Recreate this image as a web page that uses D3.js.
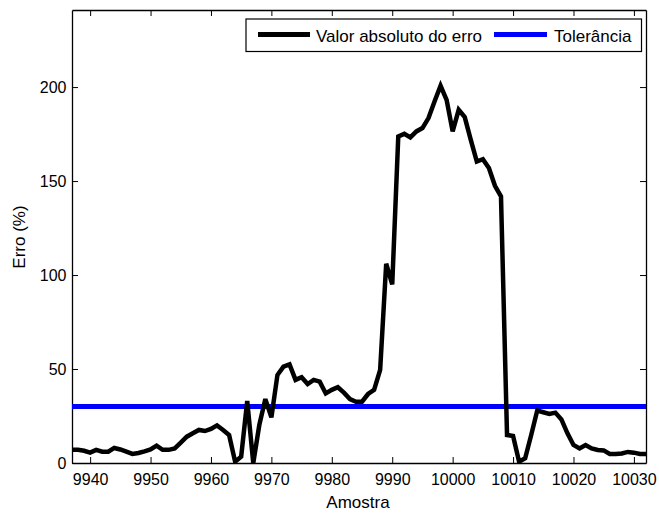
<!DOCTYPE html>
<html>
<head>
<meta charset="utf-8">
<script src="https://cdn.jsdelivr.net/npm/d3@7/dist/d3.min.js"></script>
<style>
  html, body { margin: 0; padding: 0; background: #fff; }
  svg { display: block; }
  text { font-family: "Liberation Sans", Arial, sans-serif; fill: #000; }
</style>
</head>
<body>
<script>
// Absolute error per sample, in percent
const firstSample = 9937;
const errorValues = [
  7, 7, 6.5, 5.5, 7, 6, 6, 8, 7.2, 6,
  4.8, 5.3, 6.2, 7.2, 9.2, 7, 7, 7.8, 10.8, 14,
  15.8, 17.6, 17, 18.1, 20, 17.6, 14.9, 0.7, 3.4, 33,
  0, 20.2, 34, 24.3, 46.8, 51.3, 52.5, 44.2, 45.6, 42,
  44.2, 43.3, 37, 38.9, 40.3, 37.4, 34, 32.6, 32.6, 36.7,
  38.9, 49.5, 106, 95, 173.7, 175.1, 173.2, 176.4, 178.2, 183.5,
  192.3, 200.7, 193.2, 176.4, 187.9, 184, 171.9, 160.4, 161.6, 156.9,
  147.5, 141.8, 14.9, 14.4, 0.7, 2.5, 14.9, 27.9, 27, 26.1,
  26.8, 23.2, 15.8, 9.6, 7.8, 9.6, 7.8, 6.9, 6.7, 4.8,
  4.8, 5.1, 5.9, 5.5, 4.8, 4.8
];
const samples = d3.range(firstSample, firstSample + errorValues.length);
const tolerance = 30;

const xTicks = [9940, 9950, 9960, 9970, 9980, 9990, 10000, 10010, 10020, 10030];
const yTicks = [0, 50, 100, 150, 200];
const xDomain = [9937, 10032];
const yDomain = [0, 241];

const legendLabels = ["Valor absoluto do erro", "Tolerância"];
const seriesColors = ["#000000", "#0000ff"];

const W = 659, H = 513;
const plot = { left: 72, right: 646, top: 10, bottom: 463 };

const svg = d3.select("body").append("svg")
  .attr("width", W).attr("height", H);

const x = d3.scaleLinear().domain(xDomain).range([plot.left, plot.right]);
const y = d3.scaleLinear().domain(yDomain).range([plot.bottom, plot.top]);

svg.append("defs").append("clipPath").attr("id", "plotClip")
  .append("rect")
  .attr("x", plot.left).attr("y", plot.top)
  .attr("width", plot.right - plot.left).attr("height", plot.bottom - plot.top);

const tickLen = 6;
const fontTick = 16;

// Axes with inward ticks on all four sides
const gx = svg.append("g").attr("transform", `translate(0,${plot.bottom})`)
  .call(d3.axisBottom(x).tickValues(xTicks).tickSize(-tickLen).tickSizeOuter(0)
    .tickPadding(11).tickFormat(d3.format("d")));
const gxTop = svg.append("g").attr("transform", `translate(0,${plot.top})`)
  .call(d3.axisTop(x).tickValues(xTicks).tickSize(-tickLen).tickSizeOuter(0).tickFormat(""));
const gy = svg.append("g").attr("transform", `translate(${plot.left},0)`)
  .call(d3.axisLeft(y).tickValues(yTicks).tickSize(-tickLen).tickSizeOuter(0)
    .tickPadding(5.5).tickFormat(d3.format("d")));
const gyRight = svg.append("g").attr("transform", `translate(${plot.right},0)`)
  .call(d3.axisRight(y).tickValues(yTicks).tickSize(-tickLen).tickSizeOuter(0).tickFormat(""));

[gx, gxTop, gy, gyRight].forEach(g => {
  g.selectAll("path.domain").attr("stroke", "#000").attr("stroke-width", 1.3);
  g.selectAll(".tick line").attr("stroke", "#000").attr("stroke-width", 1);
  g.selectAll(".tick text")
    .attr("fill", "#000")
    .style("font-family", '"Liberation Sans", Arial, sans-serif')
    .style("font-size", fontTick + "px");
});

// Tolerance line
const plotArea = svg.append("g").attr("clip-path", "url(#plotClip)");
plotArea.append("line")
  .attr("x1", x(xDomain[0])).attr("x2", x(xDomain[1]))
  .attr("y1", y(tolerance)).attr("y2", y(tolerance))
  .attr("stroke", seriesColors[1]).attr("stroke-width", 5);

// Error curve
const line = d3.line().x((d, i) => x(samples[i])).y(d => y(d));
plotArea.append("path")
  .datum(errorValues)
  .attr("d", line)
  .attr("fill", "none")
  .attr("stroke", seriesColors[0])
  .attr("stroke-width", 4.5)
  .attr("stroke-linejoin", "miter")
  .attr("stroke-miterlimit", 3);

// Axis titles
svg.append("text")
  .attr("x", 358).attr("y", 508)
  .attr("text-anchor", "middle")
  .style("font-size", "17px")
  .text("Amostra");
svg.append("text")
  .attr("transform", "translate(25,237) rotate(-90)")
  .attr("text-anchor", "middle")
  .style("font-size", "17px")
  .text("Erro (%)");

// Legend
const legend = svg.append("g");
legend.append("rect")
  .attr("x", 246).attr("y", 19).attr("width", 395.5).attr("height", 32.5)
  .attr("fill", "#fff").attr("stroke", "#000").attr("stroke-width", 1.2);
const legendItems = [
  { x1: 258, x2: 310, tx: 316 },
  { x1: 494, x2: 547, tx: 554 }
];
legendItems.forEach((it, i) => {
  legend.append("line")
    .attr("x1", it.x1).attr("x2", it.x2).attr("y1", 34.5).attr("y2", 34.5)
    .attr("stroke", seriesColors[i]).attr("stroke-width", 5);
  legend.append("text")
    .attr("x", it.tx).attr("y", 41.5)
    .style("font-size", "17px")
    .text(legendLabels[i]);
});
</script>
</body>
</html>
